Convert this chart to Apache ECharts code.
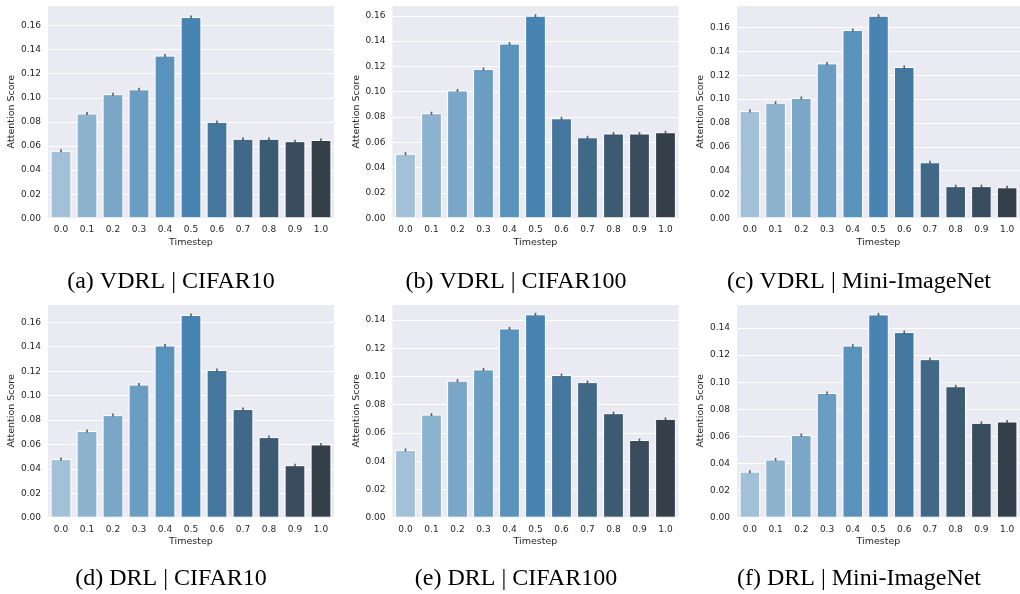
<!DOCTYPE html>
<html><head><meta charset="utf-8">
<script src="https://cdn.jsdelivr.net/npm/echarts@6/dist/echarts.min.js"></script>
<style>html,body{margin:0;padding:0;background:#fff}#c{width:1020px;height:594px}</style>
</head><body><div id="c"></div>
<script>
const timesteps = ['0.0','0.1','0.2','0.3','0.4','0.5','0.6','0.7','0.8','0.9','1.0'];
const vdrlCifar10   = [0.056, 0.087, 0.103, 0.107, 0.135, 0.167, 0.080, 0.066, 0.066, 0.064, 0.065];
const vdrlCifar100  = [0.051, 0.083, 0.101, 0.118, 0.138, 0.160, 0.079, 0.064, 0.067, 0.067, 0.068];
const vdrlMiniImNet = [0.090, 0.097, 0.101, 0.130, 0.158, 0.170, 0.127, 0.047, 0.027, 0.027, 0.026];
const drlCifar10    = [0.048, 0.071, 0.084, 0.109, 0.141, 0.166, 0.121, 0.089, 0.066, 0.043, 0.060];
const drlCifar100   = [0.048, 0.073, 0.097, 0.105, 0.134, 0.144, 0.101, 0.096, 0.074, 0.055, 0.070];
const drlMiniImNet  = [0.034, 0.043, 0.061, 0.092, 0.127, 0.150, 0.137, 0.117, 0.097, 0.070, 0.071];
const yMax = [0.177, 0.1685, 0.179, 0.175, 0.1513, 0.1577];
const captions = ['(a) VDRL | CIFAR10', '(b) VDRL | CIFAR100', '(c) VDRL | Mini-ImageNet',
                  '(d) DRL | CIFAR10', '(e) DRL | CIFAR100', '(f) DRL | Mini-ImageNet'];
const palette = ['#A2C0D7','#8DB3CE','#7AA7C8','#6A9DC1','#5993BB','#4884B2',
                 '#45769D','#416887','#3D5A73','#394C5E','#353F49'];

const panels = [vdrlCifar10, vdrlCifar100, vdrlMiniImNet, drlCifar10, drlCifar100, drlMiniImNet];
const lefts = [48, 392.5, 737];
const widths = [286, 286, 286];
const tops = [5, 304];
const heights = [213.3, 213.7];
const capX = [171, 516, 859];
const capY = [282, 579];

const txt = '#262626';
const grids = [], xAxes = [], yAxes = [], series = [], graphics = [];
panels.forEach((vals, i) => {
  const r = Math.floor(i / 3), c = i % 3;
  grids.push({left: lefts[c], top: tops[r], width: widths[c], height: heights[r],
    show: true, backgroundColor: '#EAEAF2', borderWidth: 0});
  xAxes.push({type: 'category', gridIndex: i, data: timesteps,
    name: 'Timestep', nameLocation: 'middle', nameGap: 19,
    nameTextStyle: {fontFamily: 'DejaVu Sans', fontSize: 9.5, color: txt},
    axisLine: {show: false}, axisTick: {show: false},
    axisLabel: {fontFamily: 'DejaVu Sans', fontSize: 9, color: txt, margin: 7},
    splitLine: {show: false}});
  yAxes.push({type: 'value', gridIndex: i, min: 0, max: yMax[i], interval: 0.02,
    name: 'Attention Score', nameLocation: 'middle', nameGap: 31,
    nameTextStyle: {fontFamily: 'DejaVu Sans', fontSize: 9.5, color: txt},
    axisLine: {show: false}, axisTick: {show: false},
    axisLabel: {fontFamily: 'DejaVu Sans', fontSize: 9, color: txt, margin: 7,
      showMaxLabel: false, formatter: v => v.toFixed(2)},
    splitLine: {show: true, lineStyle: {color: '#FFFFFF', width: 1}}});
  series.push({type: 'bar', xAxisIndex: i, yAxisIndex: i, data: vals, barWidth: '80%',
    itemStyle: {color: p => palette[p.dataIndex], borderColor: '#FFFFFF', borderWidth: 1},
    silent: true, animation: false});
  series.push({type: 'scatter', xAxisIndex: i, yAxisIndex: i, data: vals,
    symbol: 'rect', symbolSize: [1.6, 3], itemStyle: {color: '#3A3A3A'},
    silent: true, animation: false, z: 5});
  graphics.push({type: 'text', x: capX[c], y: capY[r],
    style: {text: captions[i], fontFamily: 'Liberation Serif', fontSize: 24,
      fill: '#000', textAlign: 'center', textVerticalAlign: 'middle'}});
});

const chart = echarts.init(document.getElementById('c'), null, {renderer: 'canvas'});
chart.setOption({animation: false, backgroundColor: '#FFFFFF',
  grid: grids, xAxis: xAxes, yAxis: yAxes, series: series, graphic: graphics});
</script></body></html>
